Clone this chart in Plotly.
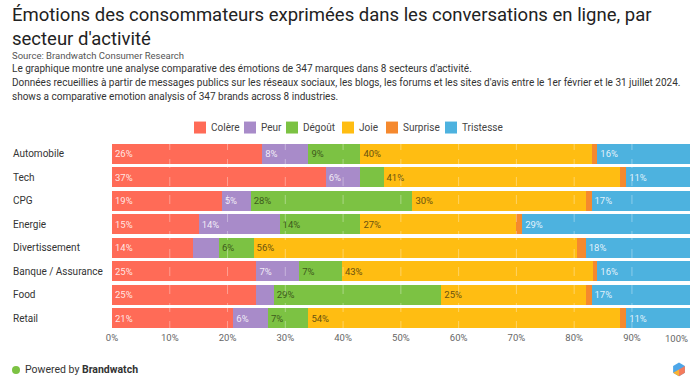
import plotly.graph_objects as go
import math

categories = ["Automobile", "Tech", "CPG", "Energie", "Divertissement",
              "Banque / Assurance", "Food", "Retail"]
colere    = [26, 37, 19, 15, 14, 25, 25, 21]
peur      = [8, 6, 5, 14, 4.5, 7.4, 3, 6]
degout    = [9, 4, 28, 14, 6, 7.4, 29, 7]
joie      = [40, 41, 30, 27, 56, 43.4, 25, 54]
surprise  = [1, 1, 1, 1, 1.5, 0.8, 1, 1]
tristesse = [16, 11, 17, 29, 18, 16, 17, 11]
x_ticks = [0, 10, 20, 30, 40, 50, 60, 70, 80, 90, 100]

series = [
    ("Colère", colere, "#FF6B57", "rgba(255,255,255,0.85)"),
    ("Peur", peur, "#A88BC9", "rgba(255,255,255,0.85)"),
    ("Dégoût", degout, "#7CC243", "#3E5A1C"),
    ("Joie", joie, "#FFBD12", "#6A5210"),
    ("Surprise", surprise, "#F5892E", "rgba(255,255,255,0.85)"),
    ("Tristesse", tristesse, "#4DB2DF", "rgba(255,255,255,0.85)"),
]
# legend swatch right edges (page pixels)
legend_right = [206, 256, 298, 354, 398, 457]

W, H = 700, 384
ML, MR, MT, MB = 112, 10, 141.5, 54
PW, PH = W - ML - MR, H - MT - MB

def px(x):
    return (x - ML) / PW

def py(y):
    return (H - MB - y) / PH

FONT = "Roboto"
fig = go.Figure()
for name, vals, color, tcolor in series:
    fig.add_trace(go.Bar(
        y=categories, x=vals, name=name, orientation="h",
        marker=dict(color=color, line=dict(width=0)),
        text=[f"{v:.0f}%" if v >= 5 else "" for v in vals],
        textposition="inside", insidetextanchor="start", textangle=0,
        constraintext="none",
        textfont=dict(family=FONT, size=9.5, color=tcolor),
        hoverinfo="x+y+name", showlegend=False,
    ))

shapes = []
for t in x_ticks[1:-1]:
    shapes.append(dict(type="line", xref="x", yref="paper", x0=t, x1=t, y0=0, y1=1,
                       line=dict(color="rgba(255,255,255,0.35)", width=1, dash="dash"),
                       layer="above"))

annotations = []
# custom legend
for (name, _, color, _), rx in zip(series, legend_right):
    shapes.append(dict(type="rect", xref="paper", yref="paper",
                       x0=px(rx - 12), x1=px(rx), y0=py(133), y1=py(121),
                       fillcolor=color, line=dict(width=0)))
    annotations.append(dict(text=name, x=px(rx + 3), y=py(127), xanchor="left", yanchor="middle",
                            font=dict(family=FONT, size=10, color="#444")))

# last tick label sits inside the plot edge
annotations.append(dict(text=f"{x_ticks[-1]}%", xref="x", x=x_ticks[-1], y=py(339),
                        xanchor="right", yanchor="middle",
                        font=dict(family=FONT, size=9.5, color="#666")))

# footer dot
shapes.append(dict(type="circle", xref="paper", yref="paper",
                   x0=px(12), x1=px(20), y0=py(374), y1=py(366),
                   fillcolor="#7CC243", line=dict(width=0)))
# logo hexagon
cx, cy, r = 679, 369.5, 6.8
pts = [(cx + r * math.cos(math.radians(90 + 60 * i)), cy - r * math.sin(math.radians(90 + 60 * i))) for i in range(6)]
def path(points):
    return "M " + " L ".join(f"{px(a):.5f},{py(b):.5f}" for a, b in points) + " Z"
shapes.append(dict(type="path", xref="paper", yref="paper", path=path(pts),
                   fillcolor="#4DA6E8", line=dict(width=0)))
shapes.append(dict(type="path", xref="paper", yref="paper",
                   path=path([(cx, cy), pts[5], pts[4], pts[3]]),
                   fillcolor="#F47B5C", line=dict(width=0)))
shapes.append(dict(type="path", xref="paper", yref="paper",
                   path=path([(cx, cy), pts[3], pts[2]]),
                   fillcolor="#F9B233", line=dict(width=0)))

annotations += [
    dict(text="Émotions des consommateurs exprimées dans les conversations en ligne, par<br>secteur d'activité",
         x=px(10), y=py(26), xanchor="left", yanchor="middle", align="left",
         font=dict(family=FONT, size=18.5, color="#222")),
    dict(text="Source: Brandwatch Consumer Research", x=px(10), y=py(55),
         xanchor="left", yanchor="middle", font=dict(family=FONT, size=9.5, color="#555")),
    dict(text="Le graphique montre une analyse comparative des émotions de 347 marques dans 8 secteurs d'activité.",
         x=px(10), y=py(68), xanchor="left", yanchor="middle", font=dict(family=FONT, size=10, color="#333")),
    dict(text="Données recueillies à partir de messages publics sur les réseaux sociaux, les blogs, les forums et les sites d'avis entre le 1er février et le 31 juillet 2024.",
         x=px(10), y=py(82), xanchor="left", yanchor="middle", font=dict(family=FONT, size=10, color="#333")),
    dict(text="shows a comparative emotion analysis of 347 brands across 8 industries.",
         x=px(10), y=py(96), xanchor="left", yanchor="middle", font=dict(family=FONT, size=10, color="#333")),
    dict(text="Powered by <b>Brandwatch</b>", x=px(23), y=py(370), xanchor="left", yanchor="middle",
         font=dict(family=FONT, size=10.5, color="#333")),
]
for c in categories:
    annotations.append(dict(text=c, xref="paper", yref="y", x=px(11), y=c,
                            xanchor="left", yanchor="middle",
                            font=dict(family=FONT, size=10, color="#333")))
for a in annotations:
    a.setdefault("xref", "paper")
    a.setdefault("yref", "paper")
    a["showarrow"] = False

fig.update_layout(
    width=W, height=H, barmode="stack", bargap=0.15,
    margin=dict(l=ML, r=MR, t=MT, b=MB, pad=0, autoexpand=False),
    paper_bgcolor="white", plot_bgcolor="white",
    font=dict(family=FONT, color="#333"),
    showlegend=False,
    xaxis=dict(range=[0, 100.05], tickvals=x_ticks[:-1], ticktext=[f"{t}%" for t in x_ticks[:-1]],
               showgrid=False, zeroline=False, showline=False, ticks="", automargin=False,
               tickfont=dict(family=FONT, size=9.5, color="#666"), fixedrange=True),
    yaxis=dict(categoryorder="array", categoryarray=categories, autorange="reversed",
               automargin=False,
               showticklabels=False, showgrid=False, zeroline=False, ticks="", fixedrange=True),
    shapes=shapes, annotations=annotations,
    uniformtext=dict(mode=False),
)

fig.write_html("out.html", config={"displayModeBar": False},
               post_script="document.body.style.margin='0';document.body.style.overflow='hidden';")
